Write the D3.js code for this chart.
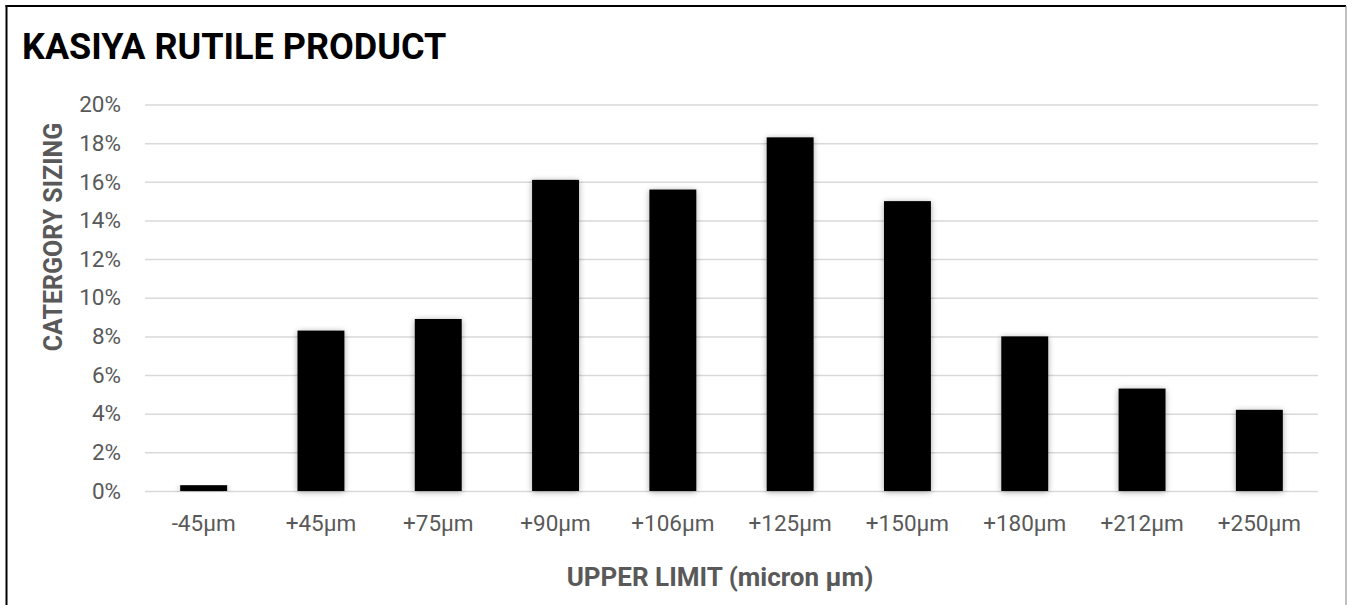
<!DOCTYPE html>
<html>
<head>
<meta charset="utf-8">
<script src="https://cdn.jsdelivr.net/npm/d3@7"></script>
<style>
  html, body { margin: 0; padding: 0; background: #fff; }
  svg { display: block; font-family: Roboto, "DejaVu Sans", sans-serif; }
</style>
</head>
<body>
<svg id="chart" width="1347" height="605"></svg>
<script>
const title = "KASIYA RUTILE PRODUCT";
const yAxisTitle = "CATERGORY SIZING";
const xAxisTitle = "UPPER LIMIT (micron µm)";
const categories = ["-45µm", "+45µm", "+75µm", "+90µm", "+106µm", "+125µm", "+150µm", "+180µm", "+212µm", "+250µm"];
const values = [0.003, 0.083, 0.089, 0.161, 0.156, 0.183, 0.150, 0.080, 0.053, 0.042];
const yTicks = [0, 0.02, 0.04, 0.06, 0.08, 0.10, 0.12, 0.14, 0.16, 0.18, 0.20];

const svg = d3.select("#chart");
const W = 1347, H = 605;
const m = { left: 145, right: 1318, top: 104.5, bottom: 491 };

// shadow filter
const defs = svg.append("defs");
const f = defs.append("filter").attr("id", "shadow")
  .attr("x", "-30%").attr("y", "-10%").attr("width", "160%").attr("height", "120%");
f.append("feGaussianBlur").attr("in", "SourceAlpha").attr("stdDeviation", 3).attr("result", "blur");
f.append("feOffset").attr("in", "blur").attr("dx", 0).attr("dy", 1).attr("result", "ob");
f.append("feComponentTransfer").attr("in", "ob").attr("result", "sh")
  .append("feFuncA").attr("type", "linear").attr("slope", 0.35);
const fm = f.append("feMerge");
fm.append("feMergeNode").attr("in", "sh");
fm.append("feMergeNode").attr("in", "SourceGraphic");

// frame
svg.append("line").attr("x1", 6.5).attr("x2", 6.5).attr("y1", 5).attr("y2", H)
  .attr("stroke", "#000").attr("stroke-width", 2);
svg.append("line").attr("x1", 5.5).attr("x2", 1346).attr("y1", 6).attr("y2", 6)
  .attr("stroke", "#000").attr("stroke-width", 2);
svg.append("line").attr("x1", 1346).attr("x2", 1346).attr("y1", 6).attr("y2", H)
  .attr("stroke", "#808080").attr("stroke-width", 1);

const x = d3.scaleBand().domain(categories).range([m.left, m.right])
  .paddingInner(0.6).paddingOuter(0.3);
const y = d3.scaleLinear().domain([0, 0.20]).range([m.bottom, m.top]);

// gridlines
const yAxis = d3.axisLeft(y).tickValues(yTicks).tickFormat(d3.format(".0%"))
  .tickSize(-(m.right - m.left)).tickPadding(24);
const gy = svg.append("g").attr("transform", `translate(${m.left},0)`).call(yAxis);
gy.select(".domain").remove();
gy.selectAll(".tick line").attr("stroke", "#d9d9d9").attr("stroke-width", 1.5);
gy.selectAll(".tick text").attr("fill", "#595959").style("font-size", "22.5px")
  .style("font-family", "Roboto, sans-serif");

// bars
svg.append("g").selectAll("rect").data(values).join("rect")
  .attr("x", (d, i) => x(categories[i]))
  .attr("width", x.bandwidth())
  .attr("y", d => y(d))
  .attr("height", d => y(0) - y(d))
  .attr("fill", "#000")
  .attr("filter", "url(#shadow)");

// x axis
const xAxis = d3.axisBottom(x).tickSize(0).tickPadding(24);
const gx = svg.append("g").attr("transform", `translate(0,${m.bottom})`).call(xAxis);
gx.select(".domain").remove();
gx.selectAll(".tick text").attr("fill", "#595959").style("font-size", "22.5px")
  .style("font-family", "Roboto, sans-serif");

// titles
svg.append("text").attr("x", 22).attr("y", 59).text(title)
  .attr("fill", "#000").style("font-size", "36px").style("font-weight", "bold");

svg.append("text").attr("x", 720).attr("y", 586).attr("text-anchor", "middle")
  .text(xAxisTitle).attr("fill", "#595959").style("font-size", "26px").style("font-weight", "bold");

svg.append("text").attr("transform", "translate(62,237) rotate(-90)").attr("text-anchor", "middle")
  .text(yAxisTitle).attr("fill", "#595959").style("font-size", "25px").style("font-weight", "bold");
</script>
</body>
</html>
